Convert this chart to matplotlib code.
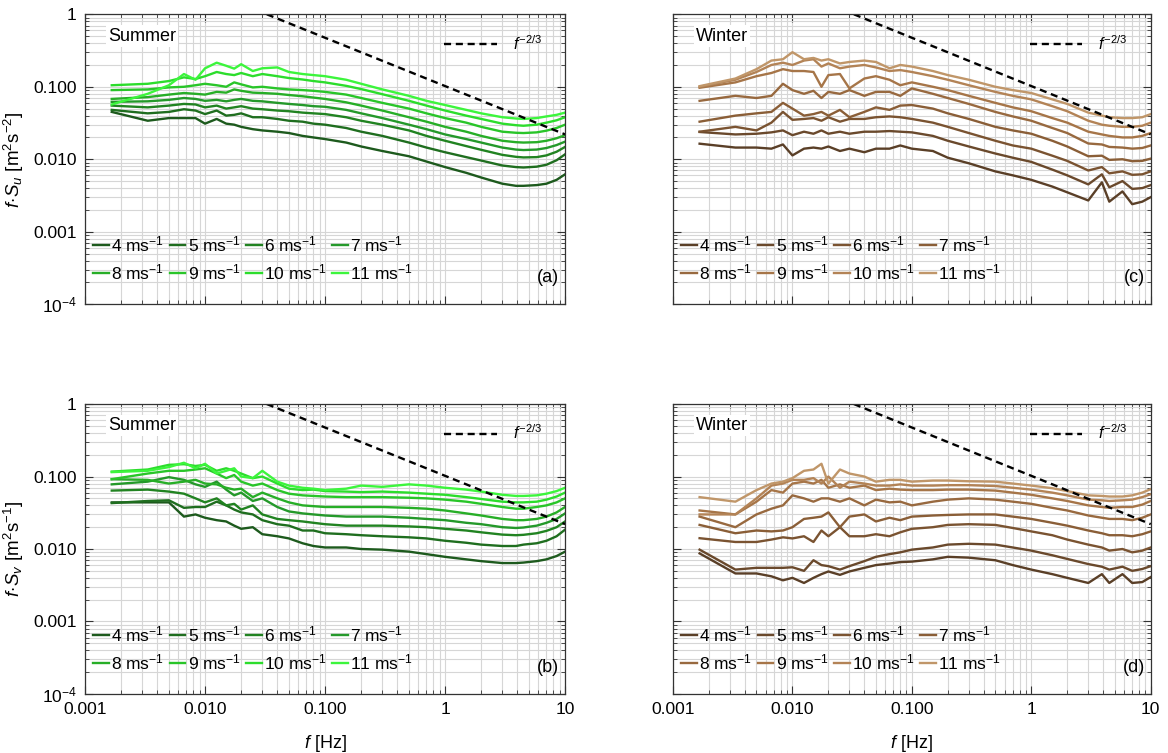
import numpy as np
import matplotlib
matplotlib.use("Agg")
import matplotlib.pyplot as plt
from matplotlib.ticker import LogLocator, FixedFormatter, FixedLocator, NullFormatter

plt.rcParams['font.family'] = ['Liberation Sans', 'DejaVu Sans']
plt.rcParams['mathtext.fontset'] = 'custom'
plt.rcParams['mathtext.rm'] = 'Liberation Sans'
plt.rcParams['mathtext.it'] = 'Liberation Sans:italic'
plt.rcParams['mathtext.bf'] = 'Liberation Sans:bold'

# frequency bins [Hz], shared by all curves
freq = [0.00167, 0.00333, 0.005, 0.00667, 0.00833, 0.01, 0.0125, 0.015, 0.0175, 0.02,
        0.025, 0.03, 0.04, 0.05, 0.065, 0.08, 0.1, 0.15, 0.2, 0.3, 0.5, 0.7, 1, 1.5, 2,
        3, 3.9, 4.5, 5.8, 7, 8.5, 10]

speeds = ['4', '5', '6', '7', '8', '9', '10', '11']

# (a) summer, f*Su
summer_u = [
    [0.045, 0.034, 0.037, 0.037, 0.037, 0.031, 0.036, 0.031, 0.030, 0.028, 0.026, 0.025, 0.024, 0.023, 0.021, 0.020,
     0.019, 0.017, 0.0150, 0.0130, 0.0110, 0.0093, 0.0078, 0.0065, 0.0056, 0.0046, 0.0043, 0.0043, 0.0044, 0.0046, 0.0052, 0.0062],
    [0.048, 0.043, 0.045, 0.049, 0.047, 0.042, 0.047, 0.040, 0.041, 0.043, 0.038, 0.038, 0.036, 0.034, 0.033, 0.031,
     0.030, 0.027, 0.024, 0.021, 0.017, 0.0145, 0.0125, 0.0107, 0.0096, 0.0082, 0.0078, 0.0077, 0.0079, 0.0084, 0.0097, 0.0117],
    [0.055, 0.052, 0.055, 0.058, 0.057, 0.052, 0.055, 0.050, 0.052, 0.054, 0.050, 0.049, 0.047, 0.046, 0.044, 0.043,
     0.042, 0.038, 0.034, 0.030, 0.025, 0.021, 0.018, 0.0152, 0.0135, 0.0115, 0.0108, 0.0106, 0.0107, 0.0113, 0.0127, 0.0148],
    [0.062, 0.063, 0.066, 0.070, 0.068, 0.064, 0.066, 0.063, 0.066, 0.068, 0.064, 0.063, 0.060, 0.058, 0.056, 0.054,
     0.053, 0.048, 0.043, 0.037, 0.030, 0.026, 0.022, 0.019, 0.017, 0.0145, 0.0136, 0.0134, 0.0136, 0.0143, 0.0157, 0.0175],
    [0.068, 0.072, 0.078, 0.082, 0.080, 0.078, 0.085, 0.083, 0.092, 0.088, 0.083, 0.082, 0.080, 0.077, 0.074, 0.071,
     0.068, 0.061, 0.055, 0.047, 0.038, 0.033, 0.028, 0.024, 0.021, 0.018, 0.0172, 0.0170, 0.0172, 0.0180, 0.0195, 0.0215],
    [0.090, 0.092, 0.098, 0.100, 0.105, 0.110, 0.105, 0.100, 0.115, 0.108, 0.098, 0.100, 0.095, 0.092, 0.090, 0.088,
     0.085, 0.078, 0.070, 0.060, 0.050, 0.043, 0.037, 0.032, 0.028, 0.024, 0.0232, 0.0230, 0.0235, 0.0248, 0.027, 0.030],
    [0.105, 0.110, 0.120, 0.135, 0.128, 0.140, 0.160, 0.150, 0.145, 0.155, 0.140, 0.150, 0.140, 0.132, 0.126, 0.120,
     0.115, 0.103, 0.093, 0.079, 0.064, 0.055, 0.047, 0.040, 0.036, 0.031, 0.0295, 0.029, 0.030, 0.032, 0.0345, 0.038],
    [0.057, 0.080, 0.105, 0.150, 0.125, 0.180, 0.215, 0.195, 0.178, 0.205, 0.165, 0.180, 0.185, 0.160, 0.150, 0.145,
     0.140, 0.125, 0.110, 0.092, 0.075, 0.064, 0.056, 0.048, 0.043, 0.038, 0.0365, 0.036, 0.037, 0.039, 0.041, 0.044],
]

# (b) summer, f*Sv
summer_v = [
    [0.044, 0.044, 0.044, 0.028, 0.030, 0.027, 0.025, 0.024, 0.021, 0.019, 0.020, 0.016, 0.015, 0.014, 0.012, 0.011,
     0.0105, 0.0105, 0.0100, 0.0098, 0.0092, 0.0085, 0.0078, 0.0072, 0.0068, 0.0064, 0.0064, 0.0065, 0.0068, 0.0072, 0.0080, 0.0092],
    [0.043, 0.046, 0.047, 0.037, 0.038, 0.038, 0.045, 0.040, 0.035, 0.032, 0.030, 0.025, 0.022, 0.021, 0.018, 0.018,
     0.0165, 0.0160, 0.0155, 0.0150, 0.0145, 0.0140, 0.0130, 0.0122, 0.0115, 0.0110, 0.0110, 0.0115, 0.0120, 0.0130, 0.0150, 0.0185],
    [0.064, 0.066, 0.062, 0.058, 0.050, 0.044, 0.050, 0.040, 0.042, 0.035, 0.040, 0.030, 0.026, 0.025, 0.024, 0.023,
     0.022, 0.021, 0.021, 0.021, 0.0205, 0.020, 0.019, 0.018, 0.017, 0.0158, 0.0155, 0.0157, 0.0165, 0.0178, 0.020, 0.024],
    [0.078, 0.085, 0.098, 0.090, 0.078, 0.072, 0.085, 0.066, 0.055, 0.060, 0.046, 0.050, 0.038, 0.033, 0.031, 0.030,
     0.029, 0.028, 0.028, 0.028, 0.027, 0.026, 0.025, 0.023, 0.022, 0.020, 0.0195, 0.0198, 0.021, 0.023, 0.026, 0.031],
    [0.092, 0.090, 0.080, 0.085, 0.090, 0.080, 0.078, 0.070, 0.066, 0.068, 0.052, 0.060, 0.050, 0.044, 0.040, 0.039,
     0.038, 0.038, 0.038, 0.038, 0.037, 0.036, 0.034, 0.031, 0.029, 0.026, 0.025, 0.025, 0.026, 0.028, 0.032, 0.038],
    [0.092, 0.110, 0.120, 0.120, 0.125, 0.130, 0.110, 0.095, 0.105, 0.085, 0.075, 0.080, 0.065, 0.058, 0.055, 0.054,
     0.053, 0.052, 0.052, 0.052, 0.051, 0.050, 0.048, 0.045, 0.042, 0.038, 0.036, 0.036, 0.038, 0.040, 0.044, 0.050],
    [0.117, 0.125, 0.145, 0.148, 0.140, 0.145, 0.120, 0.130, 0.120, 0.110, 0.095, 0.100, 0.080, 0.068, 0.065, 0.066,
     0.063, 0.062, 0.061, 0.062, 0.060, 0.058, 0.056, 0.052, 0.049, 0.045, 0.044, 0.044, 0.045, 0.048, 0.053, 0.060],
    [0.115, 0.120, 0.135, 0.155, 0.130, 0.150, 0.110, 0.120, 0.130, 0.100, 0.095, 0.120, 0.085, 0.075, 0.070, 0.068,
     0.065, 0.068, 0.075, 0.072, 0.078, 0.075, 0.070, 0.066, 0.062, 0.056, 0.054, 0.054, 0.055, 0.058, 0.063, 0.070],
]

# (c) winter, f*Su
winter_u = [
    [0.0164, 0.0145, 0.0145, 0.0140, 0.0160, 0.0113, 0.0140, 0.0145, 0.0140, 0.0150, 0.0130, 0.0140, 0.0125, 0.0140, 0.0140, 0.0155,
     0.0140, 0.0130, 0.0105, 0.0088, 0.0068, 0.0060, 0.0052, 0.0042, 0.0035, 0.0027, 0.0048, 0.0026, 0.0036, 0.0024, 0.0026, 0.0030],
    [0.0238, 0.0220, 0.0225, 0.0235, 0.0250, 0.0215, 0.0240, 0.0225, 0.0250, 0.0225, 0.0240, 0.0225, 0.0240, 0.0240, 0.0245, 0.0240,
     0.0235, 0.0210, 0.0180, 0.0150, 0.0120, 0.0105, 0.0092, 0.0072, 0.0060, 0.0045, 0.0062, 0.0041, 0.0050, 0.0039, 0.0040, 0.0044],
    [0.024, 0.028, 0.025, 0.032, 0.045, 0.035, 0.036, 0.037, 0.034, 0.038, 0.033, 0.036, 0.036, 0.038, 0.039, 0.038,
     0.036, 0.032, 0.028, 0.023, 0.018, 0.0155, 0.0140, 0.0112, 0.0095, 0.0070, 0.0078, 0.0064, 0.0068, 0.0061, 0.0062, 0.0068],
    [0.033, 0.040, 0.043, 0.045, 0.060, 0.050, 0.040, 0.042, 0.045, 0.040, 0.048, 0.038, 0.045, 0.052, 0.048, 0.055,
     0.056, 0.050, 0.043, 0.036, 0.028, 0.025, 0.0225, 0.0180, 0.0150, 0.0110, 0.0112, 0.0098, 0.0100, 0.0094, 0.0095, 0.0102],
    [0.064, 0.075, 0.070, 0.075, 0.110, 0.090, 0.080, 0.088, 0.070, 0.085, 0.080, 0.090, 0.075, 0.085, 0.085, 0.075,
     0.095, 0.080, 0.070, 0.058, 0.045, 0.039, 0.034, 0.027, 0.023, 0.0165, 0.0160, 0.0148, 0.0145, 0.0140, 0.0143, 0.0155],
    [0.097, 0.115, 0.140, 0.155, 0.175, 0.165, 0.165, 0.160, 0.100, 0.145, 0.150, 0.095, 0.130, 0.140, 0.125, 0.105,
     0.115, 0.100, 0.090, 0.075, 0.060, 0.052, 0.046, 0.037, 0.032, 0.024, 0.022, 0.021, 0.020, 0.020, 0.021, 0.023],
    [0.100, 0.125, 0.160, 0.200, 0.215, 0.200, 0.230, 0.240, 0.190, 0.210, 0.180, 0.190, 0.200, 0.185, 0.165, 0.170,
     0.160, 0.140, 0.125, 0.105, 0.085, 0.075, 0.067, 0.054, 0.046, 0.034, 0.030, 0.029, 0.028, 0.028, 0.029, 0.032],
    [0.102, 0.130, 0.175, 0.230, 0.240, 0.300, 0.240, 0.250, 0.230, 0.240, 0.210, 0.220, 0.230, 0.220, 0.180, 0.200,
     0.190, 0.165, 0.145, 0.125, 0.100, 0.090, 0.082, 0.067, 0.058, 0.044, 0.040, 0.038, 0.037, 0.037, 0.038, 0.042],
]

# (d) winter, f*Sv
winter_v = [
    [0.0087, 0.0046, 0.0046, 0.0042, 0.0037, 0.0040, 0.0034, 0.0040, 0.0045, 0.0049, 0.0044, 0.0049, 0.0055, 0.0060, 0.0063, 0.0066,
     0.0067, 0.0072, 0.0078, 0.0076, 0.0070, 0.0060, 0.0052, 0.0045, 0.0040, 0.0034, 0.0045, 0.0034, 0.0045, 0.0034, 0.0035, 0.0041],
    [0.0098, 0.0052, 0.0055, 0.0055, 0.0055, 0.0056, 0.0050, 0.0070, 0.0060, 0.0058, 0.0052, 0.0058, 0.0068, 0.0078, 0.0085, 0.0090,
     0.0098, 0.0105, 0.0115, 0.0118, 0.0115, 0.0105, 0.0095, 0.0082, 0.0073, 0.0062, 0.0057, 0.0052, 0.0057, 0.0050, 0.0053, 0.0058],
    [0.0141, 0.0125, 0.0125, 0.0135, 0.0145, 0.0140, 0.0150, 0.0125, 0.0180, 0.0150, 0.0200, 0.0150, 0.0150, 0.0160, 0.0150, 0.0170,
     0.0190, 0.0200, 0.0215, 0.0220, 0.0215, 0.0195, 0.0175, 0.0155, 0.0135, 0.0115, 0.0105, 0.0095, 0.0100, 0.0090, 0.0095, 0.0105],
    [0.0215, 0.0165, 0.0180, 0.0175, 0.0180, 0.0200, 0.0260, 0.0270, 0.0280, 0.0320, 0.0200, 0.0280, 0.0300, 0.0240, 0.0270, 0.0250,
     0.0280, 0.0290, 0.0295, 0.030, 0.030, 0.028, 0.026, 0.023, 0.021, 0.018, 0.0165, 0.0155, 0.0155, 0.0150, 0.0160, 0.0175],
    [0.028, 0.020, 0.030, 0.036, 0.040, 0.055, 0.050, 0.045, 0.050, 0.050, 0.045, 0.050, 0.040, 0.048, 0.044, 0.045,
     0.040, 0.045, 0.048, 0.050, 0.048, 0.045, 0.042, 0.037, 0.034, 0.029, 0.027, 0.026, 0.026, 0.025, 0.027, 0.030],
    [0.034, 0.030, 0.045, 0.065, 0.060, 0.080, 0.085, 0.080, 0.090, 0.070, 0.078, 0.070, 0.075, 0.065, 0.068, 0.066,
     0.065, 0.065, 0.066, 0.066, 0.064, 0.060, 0.056, 0.050, 0.046, 0.040, 0.038, 0.037, 0.038, 0.038, 0.041, 0.046],
    [0.030, 0.030, 0.050, 0.075, 0.080, 0.090, 0.090, 0.095, 0.080, 0.100, 0.070, 0.085, 0.080, 0.075, 0.075, 0.078,
     0.075, 0.075, 0.076, 0.076, 0.074, 0.070, 0.066, 0.060, 0.055, 0.048, 0.047, 0.046, 0.047, 0.048, 0.052, 0.057],
    [0.052, 0.045, 0.065, 0.080, 0.085, 0.095, 0.120, 0.125, 0.150, 0.080, 0.125, 0.110, 0.100, 0.085, 0.090, 0.090,
     0.085, 0.088, 0.088, 0.086, 0.085, 0.080, 0.075, 0.069, 0.063, 0.055, 0.054, 0.053, 0.053, 0.055, 0.060, 0.067],
]

greens = ['#1d5a1d', '#1f6e1f', '#218321', '#24992a', '#27ae27', '#29c529', '#2cdd2c', '#3cf53c']
browns = ['#5a3f27', '#6a492c', '#7a5331', '#8a5e37', '#98693f', '#a67548', '#b38356', '#c09669']

# Kolmogorov reference line, f^-2/3
dash_f = np.array([0.0327, 10.0])
dash_c = 0.1023

fig = plt.figure(figsize=(11.68, 7.53), dpi=100)
panels = [
    ([0.0728, 0.596, 0.411, 0.385], summer_u, greens, 'Summer', '(a)', True, False),
    ([0.5762, 0.596, 0.409, 0.385], winter_u, browns, 'Winter', '(c)', False, False),
    ([0.0728, 0.0784, 0.411, 0.385], summer_v, greens, 'Summer', '(b)', True, True),
    ([0.5762, 0.0784, 0.409, 0.385], winter_v, browns, 'Winter', '(d)', False, True),
]
ylabels = {'(a)': r'$f\!\cdot\!S_u$ [m$^2$s$^{-2}$]', '(b)': r'$f\!\cdot\!S_v$ [m$^2$s$^{-1}$]'}

for rect, data, cols, season, tag, show_y, show_x in panels:
    ax = fig.add_axes(rect)
    ax.set_xscale('log')
    ax.set_yscale('log')
    ax.set_xlim(0.001, 10)
    ax.set_ylim(1e-4, 1)

    handles = []
    for vals, c, s in zip(data, cols, speeds):
        h, = ax.plot(freq, vals, color=c, lw=1.7, label=s + r' ms$^{-1}$')
        handles.append(h)

    dl, = ax.plot(dash_f, dash_c * dash_f ** (-2.0 / 3.0), color='black', ls=(0, (3, 2)),
                  lw=1.7, label=r'$f^{-2/3}$')

    ax.xaxis.set_major_locator(FixedLocator([0.001, 0.01, 0.1, 1, 10]))
    ax.yaxis.set_major_locator(FixedLocator([1e-4, 1e-3, 1e-2, 1e-1, 1]))
    ax.xaxis.set_minor_locator(LogLocator(base=10, subs=np.arange(2, 10), numticks=20))
    ax.yaxis.set_minor_locator(LogLocator(base=10, subs=np.arange(2, 10), numticks=20))
    ax.xaxis.set_minor_formatter(NullFormatter())
    ax.yaxis.set_minor_formatter(NullFormatter())
    if show_x:
        ax.xaxis.set_major_formatter(FixedFormatter(['0.001', '0.010', '0.100', '1', '10']))
        ax.set_xlabel(r'$f$ [Hz]', fontsize=13, labelpad=11)
    else:
        ax.xaxis.set_major_formatter(NullFormatter())
    if show_y:
        ax.yaxis.set_major_formatter(FixedFormatter([r'10$^{-4}$', '0.001', '0.010', '0.100', '1']))
        ax.set_ylabel(ylabels[tag], fontsize=13.5, labelpad=5)
    else:
        ax.yaxis.set_major_formatter(NullFormatter())

    ax.grid(True, which='both', color='#d6d6d6', lw=0.8)
    ax.set_axisbelow(True)
    ax.tick_params(which='both', direction='in', top=True, right=True, labelsize=12.5, color='#333333')
    ax.tick_params(which='major', length=6, width=0.8, pad=6)
    ax.tick_params(which='minor', length=3, width=0.6)
    for sp in ax.spines.values():
        sp.set_color('#333333')
        sp.set_linewidth(0.9)

    # row-wise legend order: 4..7 on top, 8..11 below
    order = [0, 4, 1, 5, 2, 6, 3, 7]
    leg = ax.legend(handles=[handles[i] for i in order], loc='lower left', bbox_to_anchor=(-0.005, 0.04),
                    ncol=4, frameon=False, fontsize=12.5, handlelength=0.9, handletextpad=0.15,
                    columnspacing=0.3, labelspacing=0.45, borderaxespad=0.2)
    ax.add_artist(leg)
    ax.legend(handles=[dl], loc='center right', bbox_to_anchor=(0.965, 0.9), frameon=False,
              fontsize=11.5, handlelength=3.3, handletextpad=1.0, borderaxespad=0)

    ax.text(0.048, 0.925, season, transform=ax.transAxes, fontsize=13, va='center', ha='left',
            bbox=dict(facecolor='white', edgecolor='none', pad=1.5))
    ax.text(0.965, 0.093, tag, transform=ax.transAxes, fontsize=13, va='center', ha='center')

fig.savefig('out.png', dpi=100)
